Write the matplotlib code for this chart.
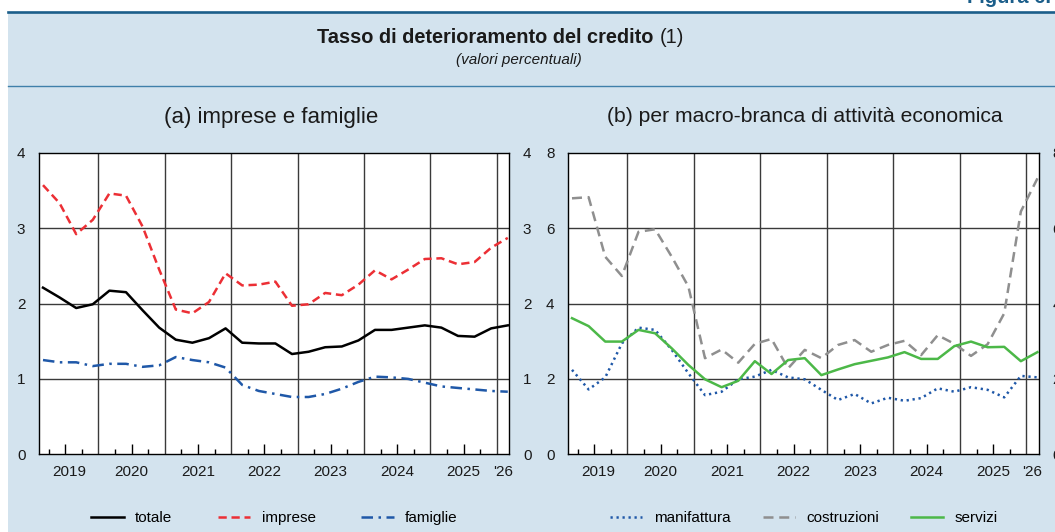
import matplotlib
matplotlib.use("Agg")
import matplotlib.pyplot as plt
from matplotlib.lines import Line2D
from matplotlib.patches import Rectangle

plt.rcParams["font.family"] = ["Liberation Sans", "DejaVu Sans"]

# Quarterly observations, March 2019 - March 2026
years = list(range(2019, 2027))
quarter_months = [3, 6, 9, 12]
periods = [(y, m) for y in years for m in quarter_months][:29]
year_labels = ["2019", "2020", "2021", "2022", "2023", "2024", "2025", "'26"]

# (a) imprese e famiglie
totale = [2.21, 2.08, 1.94, 1.99, 2.17, 2.15, 1.91, 1.68, 1.52, 1.48, 1.54, 1.67,
          1.48, 1.47, 1.47, 1.33, 1.36, 1.42, 1.43, 1.51, 1.65, 1.65, 1.68, 1.71,
          1.68, 1.57, 1.56, 1.67, 1.71]
imprese = [3.57, 3.33, 2.92, 3.11, 3.46, 3.43, 3.02, 2.45, 1.92, 1.87, 2.02, 2.40,
           2.24, 2.25, 2.29, 1.97, 1.99, 2.14, 2.11, 2.25, 2.44, 2.32, 2.45, 2.59,
           2.60, 2.52, 2.55, 2.74, 2.87]
famiglie = [1.25, 1.22, 1.22, 1.17, 1.20, 1.20, 1.16, 1.18, 1.29, 1.25, 1.22, 1.15,
            0.92, 0.84, 0.80, 0.76, 0.76, 0.80, 0.87, 0.96, 1.03, 1.02, 1.00, 0.95,
            0.90, 0.88, 0.86, 0.84, 0.83]

# (b) per macro-branca di attività economica
manifattura = [2.24, 1.72, 2.04, 2.94, 3.36, 3.30, 2.77, 2.15, 1.57, 1.66, 1.99, 2.06,
               2.24, 2.04, 1.99, 1.71, 1.44, 1.60, 1.35, 1.50, 1.42, 1.49, 1.75, 1.66,
               1.78, 1.71, 1.51, 2.08, 2.04]
costruzioni = [6.79, 6.82, 5.24, 4.73, 5.90, 5.97, 5.24, 4.45, 2.55, 2.78, 2.43, 2.93,
               3.06, 2.28, 2.77, 2.55, 2.90, 3.03, 2.72, 2.90, 3.01, 2.63, 3.16, 2.93,
               2.61, 2.92, 3.74, 6.44, 7.32]
servizi = [3.61, 3.40, 2.99, 2.99, 3.30, 3.21, 2.81, 2.37, 1.99, 1.78, 1.95, 2.47,
           2.13, 2.50, 2.55, 2.10, 2.25, 2.39, 2.48, 2.57, 2.71, 2.53, 2.53, 2.87,
           2.99, 2.84, 2.85, 2.47, 2.71]

# time in years since 1 Jan 2019
xs = [(y - 2019) + (m - 1) / 12 for (y, m) in periods]

W, H = 1055, 532
BG = "#d3e3ee"
DARKBLUE = "#1b5e8a"
fig = plt.figure(figsize=(W / 100, H / 100), dpi=100)
fig.patch.set_facecolor("white")


def fx(px):
    return px / W


def fy(py):
    return 1 - py / H


fig.add_artist(Rectangle((fx(8), 0), 1 - fx(8), fy(13), transform=fig.transFigure,
                         facecolor=BG, edgecolor="none", zorder=-10))
fig.add_artist(Line2D([fx(8), 1], [fy(12), fy(12)], transform=fig.transFigure,
                      color=DARKBLUE, lw=1.9, zorder=-5))
fig.add_artist(Line2D([fx(8), 1], [fy(85.5), fy(85.5)], transform=fig.transFigure,
                      color="#3f80aa", lw=1.0, zorder=-5))
fig.text(fx(967), fy(3), "Figura 6.", fontsize=14.5, fontweight="bold",
         color=DARKBLUE, ha="left", va="baseline")

# title: bold part followed by the note reference in regular weight
t_bold = fig.text(fx(317), fy(43), "Tasso di deterioramento del credito", fontsize=14.4,
                  fontweight="bold", color="#1a1a1a", ha="left", va="baseline")
fig.canvas.draw()
bb = t_bold.get_window_extent(fig.canvas.get_renderer())
fig.text(bb.x1 / W + fx(6), fy(43), "(1)", fontsize=14.4, color="#1a1a1a",
         ha="left", va="baseline")
fig.text(fx(519), fy(64), "(valori percentuali)", fontsize=11, style="italic",
         color="#1a1a1a", ha="center", va="baseline")

ax_top, ax_bot = 152.7, 454.3
axes_px = [(39.3, 509.0), (568.3, 1038.7)]
XMIN, XMAX = 0.111, 7.185

panels = [
    dict(title="(a) imprese e famiglie", title_x=271.5, title_size=16, ymax=4,
         yticks=[0, 1, 2, 3, 4], leg_x=274.5, colspace=3.0,
         series=[(totale, "totale", "black", "-"),
                 (imprese, "imprese", "#ec2f35", (0, (3.3, 1.9))),
                 (famiglie, "famiglie", "#1f58a8", (0, (4.6, 2.2, 1.0, 2.2)))]),
    dict(title="(b) per macro-branca di attività economica", title_x=804.5,
         title_size=15.2, ymax=8, yticks=[0, 2, 4, 6, 8], leg_x=804.0, colspace=2.1,
         series=[(manifattura, "manifattura", "#1f58a8", (0, (0.9, 1.5))),
                 (costruzioni, "costruzioni", "#8f8f8f", (0, (4.0, 2.3))),
                 (servizi, "servizi", "#4cb848", "-")]),
]

for (l, r), p in zip(axes_px, panels):
    ax = fig.add_axes([fx(l), fy(ax_bot), (r - l) / W, (ax_bot - ax_top) / H])
    ax.set_facecolor("white")
    for s in ax.spines.values():
        s.set_color("black")
        s.set_linewidth(1.0)

    # grid: year boundaries and horizontal levels
    for k in range(1, 8):
        ax.axvline(k, color="#3a3a3a", lw=1.0, zorder=1)
    for v in p["yticks"][1:-1]:
        ax.axhline(v, color="#3a3a3a", lw=1.0, zorder=1)

    handles = []
    for data, label, color, ls in p["series"]:
        (h,) = ax.plot(xs, data, color=color, lw=1.8, linestyle=ls, label=label,
                       zorder=3, dash_capstyle="butt")
        handles.append(h)

    ax.set_yticks(p["yticks"])
    ax.tick_params(axis="y", which="both", length=0, labelleft=True,
                   labelright=True, pad=10, labelsize=11, colors="#1a1a1a")
    ax.set_xticks([k + 0.5 for k in range(8)])
    ax.set_xticks([k + q for k in range(8) for q in (0.25, 0.75)], minor=True)
    ax.tick_params(axis="x", which="major", direction="in", length=7, width=1,
                   labelbottom=False, color="black")
    ax.tick_params(axis="x", which="minor", direction="in", length=3.5, width=1,
                   color="black")
    ax.set_xlim(XMIN, XMAX)
    ax.set_ylim(0, p["ymax"])

    # year labels centred on the visible part of each year
    for k, lab in enumerate(year_labels):
        a, b = max(k, XMIN), min(k + 1, XMAX)
        ax.text((a + b) / 2, -0.06, lab, transform=ax.get_xaxis_transform(),
                ha="center", va="center", fontsize=11, color="#1a1a1a")

    fig.text(fx(p["title_x"]), fy(117), p["title"], fontsize=p["title_size"],
             ha="center", va="center", color="#1a1a1a")

    fig.legend(handles=handles, loc="center", bbox_to_anchor=(fx(p["leg_x"]), fy(518)),
               ncol=3, frameon=False, fontsize=11, handlelength=2.1,
               handletextpad=0.75, columnspacing=p["colspace"])

fig.savefig("out.png", dpi=100, facecolor=fig.get_facecolor())
